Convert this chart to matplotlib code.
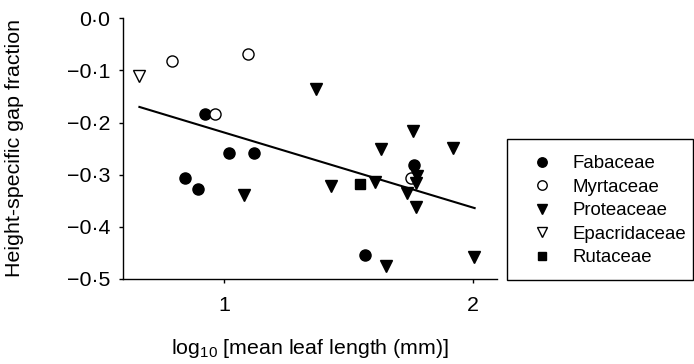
import matplotlib
matplotlib.use("Agg")
import matplotlib.pyplot as plt
from matplotlib.patches import Rectangle

plt.rcParams['font.family'] = ['Liberation Sans', 'DejaVu Sans']
plt.rcParams['mathtext.fontset'] = 'custom'
plt.rcParams['mathtext.rm'] = 'Liberation Sans'
plt.rcParams['mathtext.it'] = 'Liberation Sans'

# Data (log10 mean leaf length, height-specific gap fraction)
fab_x = [0.923, 1.020, 1.121, 0.844, 0.895, 1.762, 1.567]
fab_y = [-0.184, -0.259, -0.258, -0.307, -0.328, -0.282, -0.454]

myr_x = [0.791, 1.095, 0.964, 1.753]
myr_y = [-0.081, -0.069, -0.184, -0.306]

pro_x = [1.081, 1.368, 1.760, 1.631, 1.919, 1.776, 1.772, 1.428, 1.607,
         1.736, 1.774, 1.650, 2.007]
pro_y = [-0.338, -0.136, -0.216, -0.251, -0.248, -0.302, -0.316, -0.322,
         -0.314, -0.336, -0.362, -0.475, -0.458]

epa_x = [0.658]
epa_y = [-0.111]

rut_x = [1.547]
rut_y = [-0.318]

fit_x = [0.659, 2.008]
fit_y = [-0.170, -0.364]

yticks = [0.0, -0.1, -0.2, -0.3, -0.4, -0.5]
ytick_labels = ["0·0", "−0·1", "−0·2", "−0·3", "−0·4", "−0·5"]
xticks = [1, 2]
xtick_labels = ["1", "2"]

W, H = 694, 364
fig = plt.figure(figsize=(W / 100, H / 100), dpi=100)
ax = fig.add_axes([123 / W, 1 - 279 / H, (497 - 123) / W, (279 - 18.3) / H])

ax.plot(fit_x, fit_y, color='black', lw=1.5, zorder=2)

ms = 8
h1, = ax.plot(fab_x, fab_y, 'o', ms=ms, mfc='black', mec='black', ls='none', label='Fabaceae', zorder=3)
h2, = ax.plot(myr_x, myr_y, 'o', ms=ms, mfc='white', mec='black', mew=1.0, ls='none', label='Myrtaceae', zorder=3)
h3, = ax.plot(pro_x, pro_y, 'v', ms=ms + 0.5, mfc='black', mec='black', ls='none', label='Proteaceae', zorder=3)
h4, = ax.plot(epa_x, epa_y, 'v', ms=ms + 0.5, mfc='white', mec='black', mew=1.0, ls='none', label='Epacridaceae', zorder=3)
h5, = ax.plot(rut_x, rut_y, 's', ms=ms - 1.3, mfc='black', mec='black', ls='none', label='Rutaceae', zorder=3)

ax.set_xlim(0.593, 2.098)
ax.set_ylim(-0.5, 0.0)
ax.set_yticks(yticks)
ax.set_yticklabels(ytick_labels)
ax.set_xticks(xticks)
ax.set_xticklabels(xtick_labels)
ax.tick_params(direction='out', length=3, width=1, labelsize=15.4)
ax.tick_params(axis='y', pad=6)
ax.tick_params(axis='x', pad=9)
for s in ['top', 'right']:
    ax.spines[s].set_visible(False)
for s in ['left', 'bottom']:
    ax.spines[s].set_linewidth(1)
ax.patch.set_alpha(0)

fig.text(15 / W, 1 - 148 / H, "Height-specific gap fraction", rotation=90,
         ha='center', va='center', fontsize=15.4)
fig.text(310 / W, 1 - 349 / H, r"log$_{\mathrm{10}}$ [mean leaf length (mm)]",
         ha='center', va='center', fontsize=15.4)

# Legend frame
fig.patches.append(Rectangle((507 / W, 1 - 280 / H), (693 - 507) / W, (280 - 139) / H,
                             transform=fig.transFigure, fill=False, ec='black', lw=1))
leg = fig.legend(handles=[h1, h2, h3, h4, h5], loc='upper left',
                 bbox_to_anchor=(532.4 / W, 1 - 155 / H), frameon=False,
                 fontsize=13.4, handlelength=1.0, handletextpad=1.18,
                 labelspacing=0.35, borderaxespad=0, borderpad=0, markerscale=0.85)

fig.savefig("out.png", dpi=100)
